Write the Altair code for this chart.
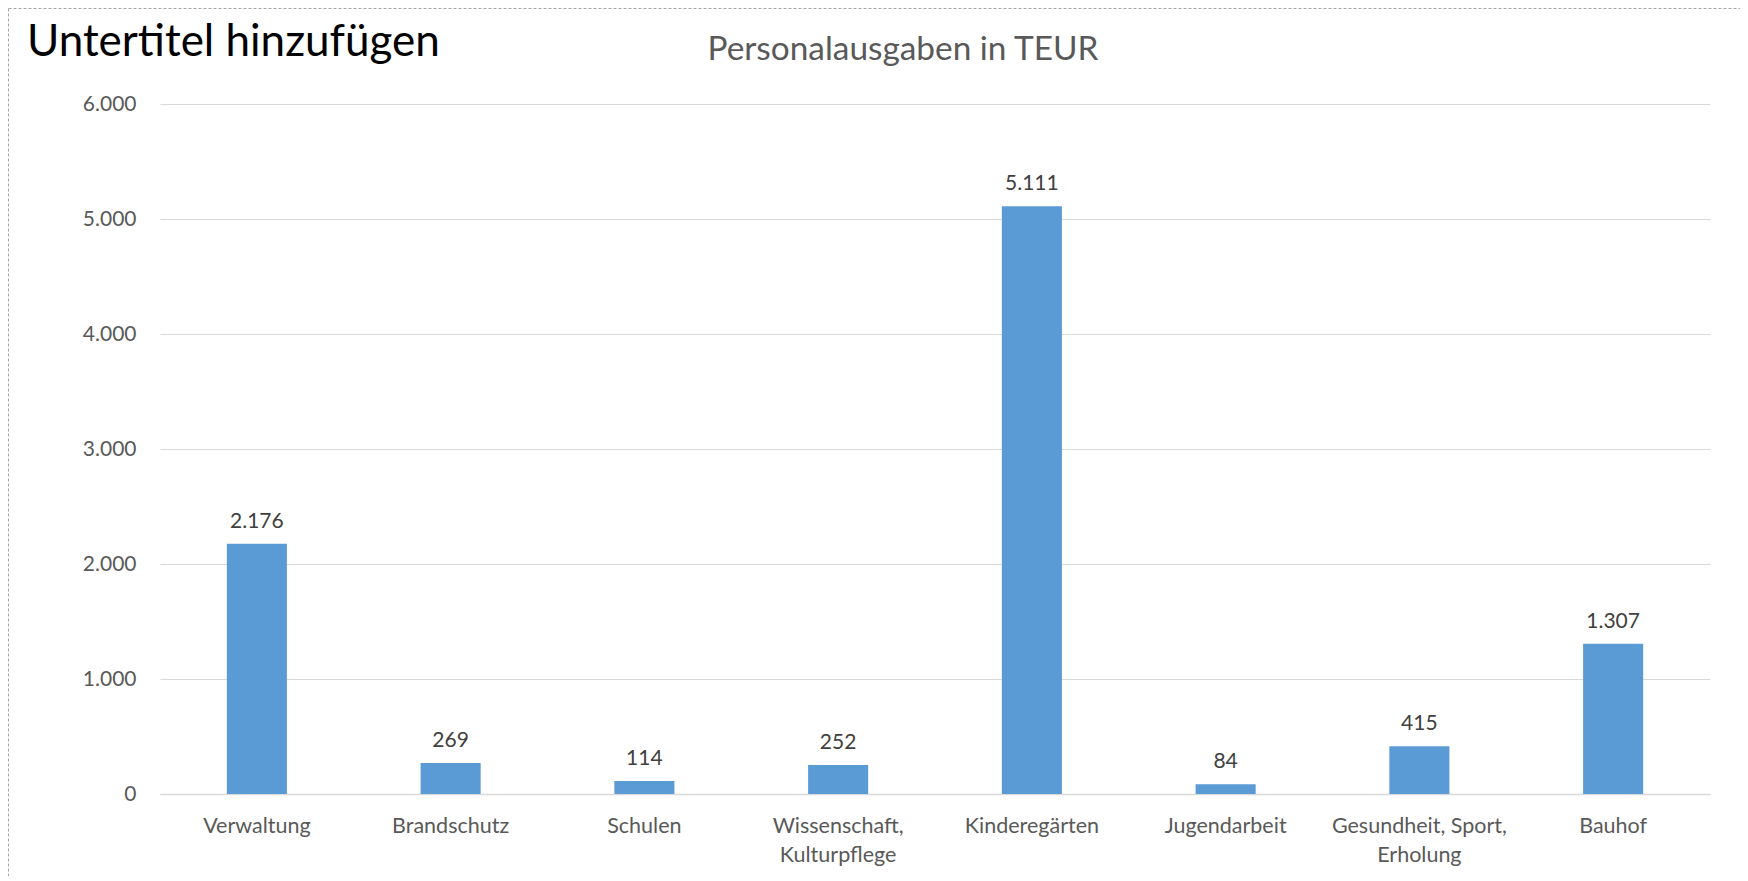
import altair as alt
import pandas as pd

categories = ["Verwaltung", "Brandschutz", "Schulen", "Wissenschaft, Kulturpflege",
              "Kinderegärten", "Jugendarbeit", "Gesundheit, Sport, Erholung", "Bauhof"]
values = [2176, 269, 114, 252, 5111, 84, 415, 1307]
label_lines = [["Verwaltung"], ["Brandschutz"], ["Schulen"], ["Wissenschaft,", "Kulturpflege"],
               ["Kinderegärten"], ["Jugendarbeit"], ["Gesundheit, Sport,", "Erholung"], ["Bauhof"]]
y_ticks = [0, 1000, 2000, 3000, 4000, 5000, 6000]
chart_title = "Personalausgaben in TEUR"
subtitle_text = "Untertitel hinzufügen"

df = pd.DataFrame({"Bereich": categories, "Wert": values})

FONT = "Lato"
W, H = 1550, 690
PAD = {"left": 152, "top": 96, "right": 30, "bottom": 82}

# multi-line label expression
parts = []
for c, lines in zip(categories, label_lines):
    arr = "[" + ",".join("'" + l + "'" for l in lines) + "]"
    parts.append(f"datum.label == '{c}' ? {arr}")
label_expr = " : ".join(parts) + " : datum.label"

x_enc = alt.X("Bereich:N", sort=categories, title=None,
              scale=alt.Scale(paddingInner=0.69, paddingOuter=0.345),
              axis=alt.Axis(labelAngle=0, labelFont=FONT, labelFontSize=21.5,
                            labelColor="#595959", labelPadding=38, labelBaseline="alphabetic",
                            labelLineHeight=29, labelExpr=label_expr, ticks=False,
                            domain=True, domainColor="#D9D9D9", domainWidth=1.3))
y_enc = alt.Y("Wert:Q", title=None,
              scale=alt.Scale(domain=[0, 6000], nice=False),
              axis=alt.Axis(values=y_ticks, labelFont=FONT, labelFontSize=21,
                            labelColor="#595959", labelPadding=24, ticks=False, domain=False,
                            gridColor="#D9D9D9", gridWidth=1.2,
                            labelExpr="replace(format(datum.value, ','), ',', '.')"))

bars = alt.Chart(df).mark_bar(color="#5B9BD5").encode(x=x_enc, y=y_enc)

labels = alt.Chart(df).transform_calculate(
    lab="replace(format(datum.Wert, ','), ',', '.')"
).mark_text(font=FONT, fontSize=21, color="#404040", baseline="alphabetic", dy=-16).encode(
    x=alt.X("Bereich:N", sort=categories), y="Wert:Q", text="lab:N")

one = alt.Data(values=[{"a": 1}])

title_mark = alt.Chart(one).mark_text(
    text=chart_title, font=FONT, fontSize=33.4, color="#595959",
    align="center", baseline="alphabetic"
).encode(x=alt.value(743), y=alt.value(-44))

sub_mark = alt.Chart(one).mark_text(
    text=subtitle_text, font=FONT, fontSize=44, color="#000000",
    align="left", baseline="alphabetic"
).encode(x=alt.value(-133), y=alt.value(-48))

border_top = alt.Chart(one).mark_rule(color="#A6A6A6", strokeDash=[3, 2], strokeWidth=1).encode(
    x=alt.value(-151.5), x2=alt.value(W + PAD["right"]), y=alt.value(-95.5))
border_left = alt.Chart(one).mark_rule(color="#A6A6A6", strokeDash=[3, 2], strokeWidth=1).encode(
    x=alt.value(-151.5), y=alt.value(-95.5), y2=alt.value(H + PAD["bottom"]))

chart = alt.layer(bars, labels, title_mark, sub_mark, border_top, border_left).properties(
    width=W, height=H, padding=PAD, autosize=alt.AutoSizeParams(type="none"),
    background="white"
).configure_view(strokeWidth=0, stroke="transparent")

chart.save("out.html", embed_options={"renderer": "svg", "actions": False})
